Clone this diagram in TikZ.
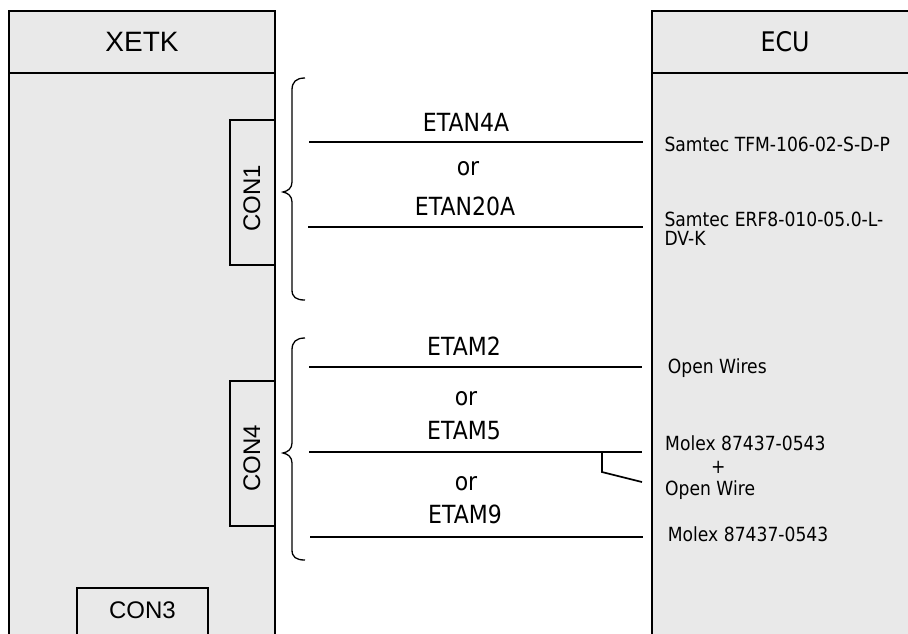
\documentclass[tikz,border=0pt]{standalone}
\usepackage{fontspec}
\setmainfont{Liberation Sans}
\newfontfamily\tah[FakeStretch=0.88]{DejaVu Sans}
\definecolor{boxgray}{RGB}{233,233,233}
\begin{document}
\begin{tikzpicture}[x=1pt,y=-1pt,
  box/.style={draw=black, line width=1.8pt, fill=boxgray},
  wire/.style={line width=1.7pt},
  bracepath/.style={line width=1.3pt},
  hdr/.style={inner sep=0pt, anchor=base, font=\fontsize{28}{32}\selectfont},
  ecuhdr/.style={inner sep=0pt, anchor=base, font=\tah\fontsize{27}{32}\selectfont},
  conlab/.style={inner sep=0pt, anchor=base, font=\fontsize{24}{28}\selectfont},
  cable/.style={inner sep=0pt, anchor=base, font=\tah\fontsize{25}{30}\selectfont},
  plug/.style={inner sep=0pt, anchor=base west, font=\tah\fontsize{19.5}{23}\selectfont},
  plugc/.style={inner sep=0pt, anchor=base, font=\tah\fontsize{19.5}{23}\selectfont}]
\useasboundingbox (0,0) rectangle (908,633);
\begin{scope}
\clip (0,0) rectangle (908,633);
% XETK box
\draw[box] (9,11) rectangle (275,720);
\draw[box] (9,11) rectangle (275,73);
\node[hdr] (xetk) at (142,51.7) {XETK};
% ECU box
\draw[box] (652,11) rectangle (918,720);
\draw[box] (652,11) rectangle (918,73);
\node[ecuhdr] (ecu) at (785,51.7) {ECU};
% connectors on XETK
\draw[box] (230,120) rectangle (275,265);
\node[conlab, rotate=90] (con1) at (260,198.5) {CON1};
\draw[box] (230,381) rectangle (275,526);
\node[conlab, rotate=90] (con4) at (260,458.5) {CON4};
\draw[box] (77,588) rectangle (208,720);
\node[conlab] (con3) at (142.5,618.3) {CON3};
% braces
\draw[bracepath] (305,78) .. controls (296,78) and (292,82) .. (292,90) -- (292,182)
  .. controls (292,188) and (288,191) .. (283,192) .. controls (288,193) and (292,196) .. (292,202)
  -- (292,290) .. controls (292,297) and (296,300) .. (305,300);
\draw[bracepath] (305,338) .. controls (296,338) and (292,342) .. (292,350) -- (292,443)
  .. controls (292,449) and (288,452) .. (283,453) .. controls (288,454) and (292,457) .. (292,463)
  -- (292,550) .. controls (292,557) and (296,560) .. (305,560);
% wires
\coordinate (a1) at (309,142); \coordinate (b1) at (643,142);
\coordinate (a2) at (308,227); \coordinate (b2) at (643,227);
\coordinate (a3) at (309,367); \coordinate (b3) at (642,367);
\coordinate (a4) at (309,452); \coordinate (b4) at (642,452);
\coordinate (a5) at (310,537); \coordinate (b5) at (643,537);
\coordinate (k1) at (602,452); \coordinate (k2) at (602,472); \coordinate (b6) at (642,482);
\draw[wire] (a1) -- (b1);
\draw[wire] (a2) -- (b2);
\draw[wire] (a3) -- (b3);
\draw[wire] (a4) -- (b4);
\draw[wire] (a5) -- (b5);
\draw[wire] (k1) -- (k2) -- (b6);
% cable labels
\node[cable] (t1) at (466,131.7) {ETAN4A};
\node[cable] (o1) at (468,175) {or};
\node[cable] (t2) at (465,215) {ETAN20A};
\node[cable] (t3) at (464,355) {ETAM2};
\node[cable] (o2) at (466,405) {or};
\node[cable] (t4) at (464,439.3) {ETAM5};
\node[cable] (o3) at (466,490) {or};
\node[cable] (t5) at (465,523.3) {ETAM9};
% ECU side labels
\node[plug] (p1) at (664.3,151.7) {Samtec TFM-106-02-S-D-P};
\node[plug] (p2) at (664.3,226.7) {Samtec ERF8-010-05.0-L-};
\node[plug] (p2b) at (664.3,245) {DV-K};
\node[plug] (p3) at (667.7,373.3) {Open Wires};
\node[plug] (p4) at (665,450.7) {Molex 87437-0543};
\node[plugc] (p4p) at (718.3,473) {+};
\node[plug] (p4b) at (665,495) {Open Wire};
\node[plug] (p5) at (667.7,541.7) {Molex 87437-0543};
\end{scope}
\end{tikzpicture}
\end{document}
